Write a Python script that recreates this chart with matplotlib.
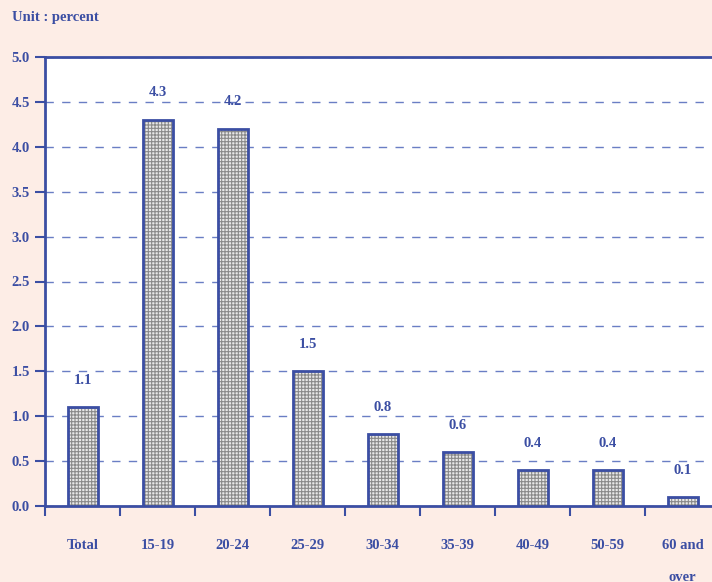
import matplotlib
matplotlib.use("Agg")
import matplotlib.pyplot as plt
import numpy as np

categories = ["Total", "15-19", "20-24", "25-29", "30-34", "35-39", "40-49", "50-59", "60 and\nover"]
values = [1.1, 4.3, 4.2, 1.5, 0.8, 0.6, 0.4, 0.4, 0.1]
yticks = [0.0, 0.5, 1.0, 1.5, 2.0, 2.5, 3.0, 3.5, 4.0, 4.5, 5.0]

blue = "#3B4EA3"
bg = "#FDEDE6"
plt.rcParams['font.family'] = ['Liberation Serif', 'DejaVu Serif']
plt.rcParams['hatch.linewidth'] = 0.8

fig = plt.figure(figsize=(7.12, 5.82), dpi=100, facecolor=bg)
ax = fig.add_axes([45/712, 76/582, 675/712, 449/582])
ax.set_facecolor("white")

x = np.arange(len(categories))
ax.bar(x, values, width=0.4, color="#e8e8e8", edgecolor="#8a8a8a", hatch="+++++", linewidth=0, zorder=3)
ax.bar(x, values, width=0.4, fill=False, edgecolor=blue, linewidth=2, zorder=4)

for xi, v in zip(x, values):
    ax.text(xi, v + 0.3, f"{v:.1f}", ha="center", va="center", color=blue,
            fontsize=10.5, fontweight="bold", zorder=5)

ax.set_xlim(-0.5, len(categories) - 0.5)
ax.set_ylim(0, 5.0)
ax.set_yticks(yticks)
ax.set_yticklabels([f"{t:.1f}" for t in yticks])
ax.yaxis.grid(True, color="#6A7EC4", linestyle=(0, (6, 6)), linewidth=1)
ax.set_axisbelow(True)

ax.set_xticks(x, minor=True)
ax.set_xticklabels(categories, minor=True, va="top")
ax.tick_params(axis="x", which="minor", length=0, pad=24, colors=blue, labelsize=10.5)
ax.set_xticks([-0.5] + list(x + 0.5))
ax.set_xticklabels([""] * (len(x) + 1))
ax.tick_params(axis="x", which="major", length=7, width=1.5, color=blue, direction="out")
ax.tick_params(axis="y", length=7, width=1.5, color=blue, labelcolor=blue, labelsize=10.5, pad=4)
for lbl in ax.get_yticklabels() + ax.get_xticklabels(minor=True):
    lbl.set_fontweight("bold")
    lbl.set_color(blue)
for lbl in ax.get_xticklabels(minor=True):
    lbl.set_linespacing(2.9)
    lbl.set_verticalalignment("top")

for s in ax.spines.values():
    s.set_color(blue)
    s.set_linewidth(2)

fig.text(12/712, 1 - 18/582, "Unit : percent", ha="left", va="center", color=blue,
         fontsize=10.5, fontweight="bold")

fig.savefig("out.png", dpi=100, facecolor=bg)
